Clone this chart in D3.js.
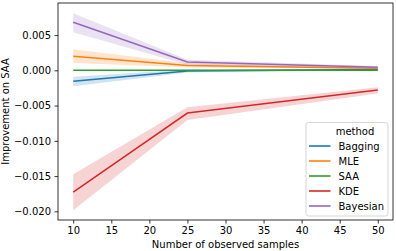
<!DOCTYPE html>
<meta charset="utf-8">
<script src="https://d3js.org/d3.v7.min.js"></script>
<style>
  body { margin: 0; background: #fff; }
  text { font-family: "DejaVu Sans", sans-serif; }
</style>
<div id="chart"></div>
<script>
// sample sizes on the x axis
var samples = [10, 25, 50];
var methods = ["Bagging", "MLE", "SAA", "KDE", "Bayesian"];
var colors = ["#1f77b4", "#ff7f0e", "#2ca02c", "#d62728", "#9467bd"];

// mean improvement and confidence band for each method
var bagging = [-0.00156, -0.0001, 0.0001];
var baggingLo = [-0.00227, -0.0003, 0.0000];
var baggingHi = [-0.0009, 0.0001, 0.0002];

var mle = [0.00199, 0.0007, 0.0003];
var mleLo = [0.00104, 0.0004, 0.0002];
var mleHi = [0.0030, 0.0010, 0.0004];

var saa = [0, 0, 0];
var saaLo = [0, 0, 0];
var saaHi = [0, 0, 0];

var kde = [-0.01726, -0.00606, -0.0028];
var kdeLo = [-0.01986, -0.00705, -0.0033];
var kdeHi = [-0.01475, -0.00525, -0.0024];

var bayesian = [0.00681, 0.00118, 0.00043];
var bayesianLo = [0.00539, 0.0008, 0.0002];
var bayesianHi = [0.00809, 0.0015, 0.0006];

var xTicks = [10, 15, 20, 25, 30, 35, 40, 45, 50];
var yTicks = [0.005, 0, -0.005, -0.010, -0.015, -0.020];

var series = [
  {mean: bagging, lo: baggingLo, hi: baggingHi},
  {mean: mle, lo: mleLo, hi: mleHi},
  {mean: saa, lo: saaLo, hi: saaHi},
  {mean: kde, lo: kdeLo, hi: kdeHi},
  {mean: bayesian, lo: bayesianLo, hi: bayesianHi}
];

var W = 396, H = 251;
var margin = {top: 3, right: 3, bottom: 31, left: 58};
var width = W - margin.left - margin.right,
    height = H - margin.top - margin.bottom;

var svg = d3.select("#chart").append("svg")
    .attr("width", W).attr("height", H);
var g = svg.append("g")
    .attr("transform", "translate(" + margin.left + "," + margin.top + ")");

var x = d3.scaleLinear().domain([8, 52]).range([0, width]);
var y = d3.scaleLinear().domain([-0.02123, 0.00955]).range([height, 0]);

// bands
var area = d3.area()
    .x(function(d) { return x(d.x); })
    .y0(function(d) { return y(d.lo); })
    .y1(function(d) { return y(d.hi); });
var line = d3.line()
    .x(function(d) { return x(d.x); })
    .y(function(d) { return y(d.v); });

series.forEach(function(s, i) {
  var pts = samples.map(function(n, j) {
    return {x: n, v: s.mean[j], lo: s.lo[j], hi: s.hi[j]};
  });
  g.append("path").datum(pts)
    .attr("d", area)
    .attr("fill", colors[i])
    .attr("fill-opacity", 0.2);
});
series.forEach(function(s, i) {
  var pts = samples.map(function(n, j) {
    return {x: n, v: s.mean[j]};
  });
  g.append("path").datum(pts)
    .attr("d", line)
    .attr("fill", "none")
    .attr("stroke", colors[i])
    .attr("stroke-width", 1.5);
});

// axes
var xAxis = g.append("g")
    .attr("transform", "translate(0," + height + ")")
    .call(d3.axisBottom(x).tickValues(xTicks).tickSize(3.5).tickPadding(3.5));
var yAxis = g.append("g")
    .call(d3.axisLeft(y).tickValues(yTicks).tickSize(3.5).tickPadding(3.5)
      .tickFormat(function(d) { return d3.format(".3f")(d).replace("-", "\u2212"); }));
[xAxis, yAxis].forEach(function(a) {
  a.selectAll("text").attr("font-size", 10).attr("fill", "#000")
    .attr("font-family", "DejaVu Sans");
  a.selectAll("line").attr("stroke", "#000").attr("stroke-width", 0.8);
  a.select(".domain").remove();
});

// frame
g.append("rect")
    .attr("width", width).attr("height", height)
    .attr("fill", "none").attr("stroke", "#000").attr("stroke-width", 0.8);

// axis labels
svg.append("text")
    .attr("x", margin.left + width / 2).attr("y", 247.5)
    .attr("text-anchor", "middle").attr("font-size", 10)
    .text("Number of observed samples");
svg.append("text")
    .attr("transform", "translate(9," + (margin.top + height / 2) + ") rotate(-90)")
    .attr("text-anchor", "middle").attr("font-size", 10)
    .text("Improvement on SAA");

// legend
var lg = svg.append("g").attr("transform", "translate(306,122.5)");
lg.append("rect")
    .attr("width", 82).attr("height", 93.5).attr("rx", 2.5)
    .attr("fill", "#fff").attr("fill-opacity", 0.8)
    .attr("stroke", "#ccc").attr("stroke-width", 0.8);
lg.append("text").attr("x", 49).attr("y", 12.8)
    .attr("text-anchor", "middle").attr("font-size", 10).text("method");
methods.forEach(function(m, i) {
  var yy = 23.5 + i * 15;
  lg.append("line")
    .attr("x1", 3).attr("x2", 24.5).attr("y1", yy).attr("y2", yy)
    .attr("stroke", colors[i]).attr("stroke-width", 2).attr("stroke-opacity", 0.8);
  lg.append("text").attr("x", 32.5).attr("y", yy + 3.6)
    .attr("font-size", 10).text(m);
});
</script>
